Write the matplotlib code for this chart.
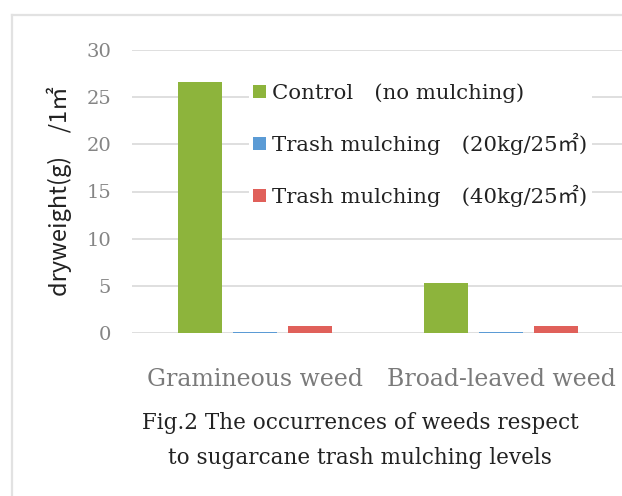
import numpy as np
import matplotlib
matplotlib.use("Agg")
import matplotlib.pyplot as plt
from matplotlib.lines import Line2D

# -------------------------------
# Data
# -------------------------------
categories = ["Gramineous weed", "Broad-leaved weed"]
series_names = ["Control\u3000(no mulching)",
                "Trash mulching\u3000(20kg/25\u33a1)",
                "Trash mulching\u3000(40kg/25\u33a1)"]
control = [26.6, 5.3]
mulch_20 = [0.15, 0.15]
mulch_40 = [0.7, 0.7]
yticks = [0, 5, 10, 15, 20, 25, 30]

colors = ["#8DB43C", "#5B9BD5", "#E0605A"]
serif = ["DejaVu Serif", "Noto Sans CJK JP"]

# -------------------------------
# Plot
# -------------------------------
fig = plt.figure(figsize=(6.22, 4.96), dpi=100)

# light border of the screenshot box (top and left only, the rest is cut off)
fig.lines.append(Line2D([12 / 622, 1.0], [1 - 15 / 496, 1 - 15 / 496],
                        transform=fig.transFigure, color="#e2e2e2", linewidth=1.6))
fig.lines.append(Line2D([12 / 622, 12 / 622], [0, 1 - 15 / 496],
                        transform=fig.transFigure, color="#e2e2e2", linewidth=1.6))

ax = fig.add_axes([132 / 622, 1 - 333 / 496, 492 / 622, (333 - 50) / 496])

x = np.arange(len(categories))
w = 0.18
gap = 0.045
for i, vals in enumerate([control, mulch_20, mulch_40]):
    ax.bar(x + (i - 1) * (w + gap), vals, width=w, color=colors[i],
           label=series_names[i], zorder=3)

ax.set_xlim(-0.5, 1.5)
ax.set_ylim(0, 30)
ax.set_yticks(yticks)
ax.yaxis.grid(True, color="#d9d9d9", linewidth=1.2, zorder=0)
for s in ax.spines.values():
    s.set_visible(False)
ax.tick_params(axis="both", length=0)
ax.tick_params(axis="y", pad=15, labelsize=14, labelcolor="#858585")
ax.tick_params(axis="x", pad=25, labelsize=17, labelcolor="#7a7a7a")
ax.set_xticks(x)
ax.set_xticklabels(categories, family=serif)
for t in ax.get_yticklabels():
    t.set_family(serif)

ax.set_ylabel("dryweight(g)\u3000/1\u33a1", family=["Noto Sans CJK JP", "DejaVu Sans"],
              fontsize=17, color="#222222", labelpad=10)

leg = ax.legend(loc="upper left", bbox_to_anchor=(0.238, 0.898), frameon=True,
                facecolor="white", edgecolor="none", framealpha=1,
                prop={"family": serif, "size": 15.3}, labelspacing=1.41,
                handlelength=0.6, handleheight=0.6, handletextpad=0.3,
                borderpad=0.2, borderaxespad=0)
for t in leg.get_texts():
    t.set_color("#222222")
leg.set_zorder(5)

fig.text(360 / 622, 1 - 423 / 496, "Fig.2 The occurrences of weeds respect",
         ha="center", va="center", fontsize=15.5, family=serif, color="#222222")
fig.text(360 / 622, 1 - 458 / 496, "to sugarcane trash mulching levels",
         ha="center", va="center", fontsize=15.5, family=serif, color="#222222")

fig.savefig("out.png", dpi=100)
